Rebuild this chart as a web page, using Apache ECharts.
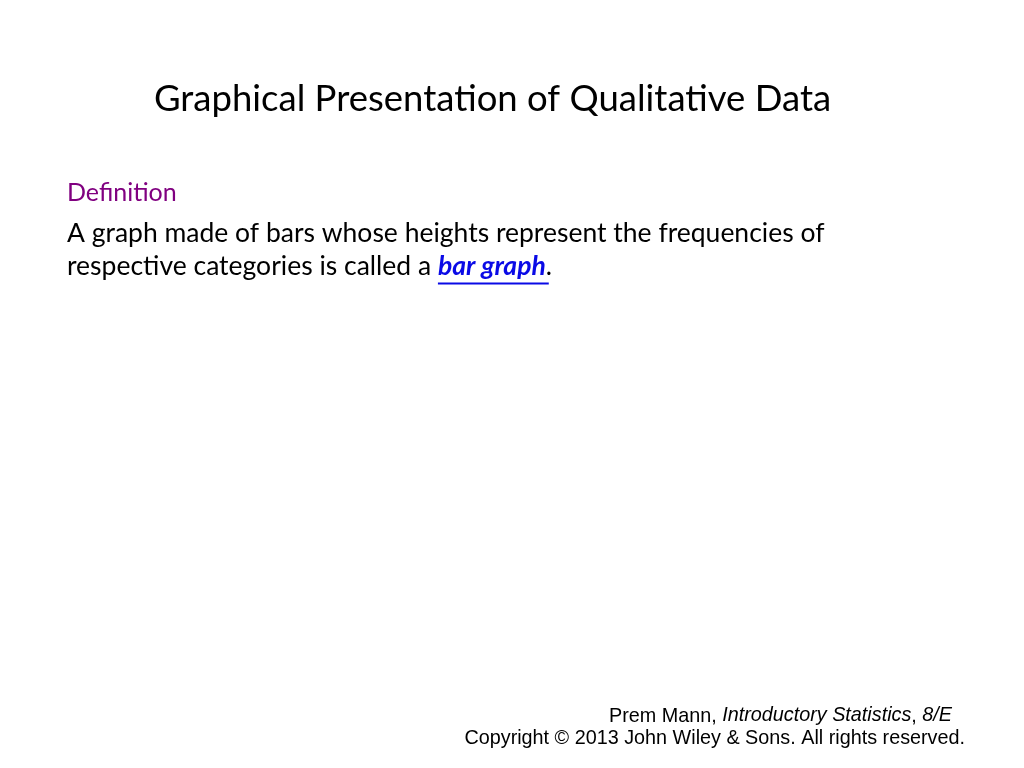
<!DOCTYPE html>
<html>
<head>
<meta charset="utf-8">
<script src="https://cdn.jsdelivr.net/npm/echarts@6/dist/echarts.min.js"></script>
<style>html,body{margin:0;padding:0;background:#fff}#c{width:1024px;height:768px}</style>
</head>
<body>
<div id="c"></div>
<script>
var titleText = 'Graphical Presentation of Qualitative Data';
var definitionLabel = 'Definition';
var bodyLine1 = 'A graph made of bars whose heights represent the frequencies of';
var bodyLine2Parts = ['respective categories is called a ', 'bar graph', '.'];
var footerLine1Parts = ['Prem Mann, ', 'Introductory Statistics', ', ', '8/E'];
var footerLine1Italic = [false, true, false, true];
var footerLine2 = 'Copyright \u00a9 2013 John Wiley & Sons. All rights reserved.';

var SANS = 'Lato, "Noto Sans", sans-serif';
var ARIAL = '"Liberation Sans", Arial, sans-serif';

function measure(text, font) {
  var c = document.createElement('canvas').getContext('2d');
  c.font = font;
  return c.measureText(text).width;
}
var bodySize = 26.5;
var prefixW = measure(bodyLine2Parts[0], bodySize + 'px Lato');
var linkW = measure(bodyLine2Parts[1], 'italic bold ' + bodySize + 'px Lato');

var footSize = 19.8;
var footFonts = footerLine1Italic.map(function (it) {
  return (it ? 'italic ' : '') + footSize + 'px ' + ARIAL;
});
var footWidths = footerLine1Parts.map(function (t, i) { return measure(t, footFonts[i]); });
var footTotal = footWidths.reduce(function (a, b) { return a + b; }, 0);
var footRight = 952;
var footX = footRight - footTotal;

var graphics = [
  { type: 'text', left: 154, top: 81,
    style: { text: titleText, font: '36.5px ' + SANS, fill: '#000' } },
  { type: 'text', left: 67, top: 180,
    style: { text: definitionLabel, font: '25px ' + SANS, fill: '#800080' } },
  { type: 'text', left: 67, top: 220,
    style: { text: bodyLine1, font: bodySize + 'px ' + SANS, fill: '#000' } },
  { type: 'text', left: 67, top: 253,
    style: {
      text: '{n|' + bodyLine2Parts[0] + '}{l|' + bodyLine2Parts[1] + '}{n|' + bodyLine2Parts[2] + '}',
      rich: {
        n: { fontFamily: SANS, fontSize: bodySize, lineHeight: 32, fill: '#000' },
        l: { fontFamily: SANS, fontSize: bodySize, lineHeight: 32, fontStyle: 'italic', fontWeight: 'bold', fill: '#0a0ae6' }
      }
    } },
  { type: 'line', shape: { x1: 67 + prefixW, y1: 283.5, x2: 67 + prefixW + linkW + 3, y2: 283.5 },
    style: { stroke: '#0a0ae6', lineWidth: 2 } },
  { type: 'text', right: 59, top: 729,
    style: { text: footerLine2, font: footSize + 'px ' + ARIAL, fill: '#000' } }
];
var acc = 0;
footerLine1Parts.forEach(function (t, i) {
  graphics.push({ type: 'text', x: footX + acc, y: footerLine1Italic[i] ? 715.5 : 717,
    style: { text: t, font: footFonts[i], fill: '#000', align: 'left', verticalAlign: 'middle' } });
  acc += footWidths[i];
});

var chart = echarts.init(document.getElementById('c'));
chart.setOption({ backgroundColor: '#ffffff', graphic: graphics });
</script>
</body>
</html>
